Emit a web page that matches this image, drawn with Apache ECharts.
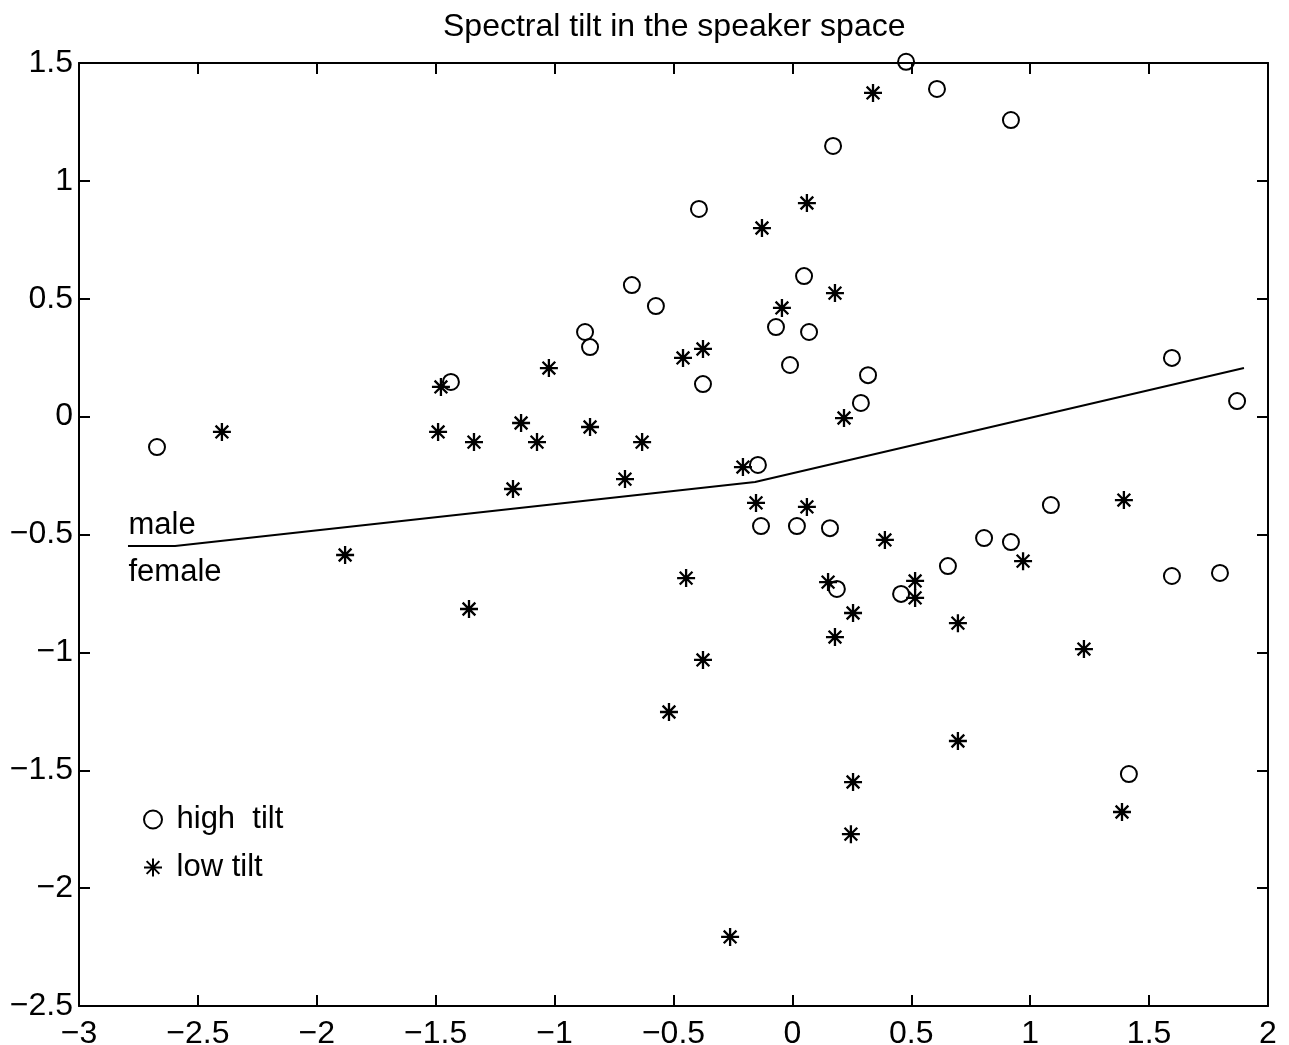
<!DOCTYPE html>
<html>
<head>
<meta charset="utf-8">
<script src="https://cdn.jsdelivr.net/npm/echarts@6/dist/echarts.min.js"></script>
<style>
html,body{margin:0;padding:0;background:#fff;}
#chart{width:1289px;height:1045px;}
</style>
</head>
<body>
<div id="chart"></div>
<script>
const titleText = 'Spectral tilt in the speaker space';
const xTicks = [-3, -2.5, -2, -1.5, -1, -0.5, 0, 0.5, 1, 1.5, 2];
const yTicks = [-2.5, -2, -1.5, -1, -0.5, 0, 0.5, 1, 1.5];

const highTiltX = [-2.672,-1.436,-0.872,-0.851,-0.675,-0.574,-0.393,-0.376,-0.145,-0.132,-0.069,-0.010,0.019,0.049,0.070,0.171,0.158,0.187,0.288,0.318,0.478,0.457,0.608,0.654,0.806,0.919,0.919,1.087,1.415,1.596,1.596,1.798,1.870];
const highTiltY = [-0.129,0.147,0.359,0.295,0.558,0.469,0.881,0.138,-0.205,-0.464,0.380,0.219,-0.464,0.596,0.359,1.148,-0.473,-0.731,0.058,0.176,1.505,-0.752,1.390,-0.634,-0.515,1.258,-0.532,-0.375,-1.516,0.249,-0.676,-0.663,0.066];

const lowTiltX = [-2.399,-1.881,-1.490,-1.478,-1.360,-1.339,-1.175,-1.141,-1.074,-1.024,-0.851,-0.704,-0.632,-0.519,-0.460,-0.447,-0.376,-0.376,-0.262,-0.208,-0.153,-0.128,-0.044,0.061,0.061,0.150,0.179,0.179,0.217,0.255,0.255,0.246,0.339,0.389,0.516,0.516,0.696,0.696,0.970,1.226,1.394,1.386];
const lowTiltY = [-0.065,-0.587,-0.065,0.126,-0.816,-0.108,-0.307,-0.027,-0.108,0.206,-0.044,-0.265,-0.108,-1.253,0.249,-0.685,0.287,-1.032,-2.207,-0.214,-0.366,0.800,0.461,0.906,-0.383,-0.702,0.524,-0.935,-0.006,-0.833,-1.550,-1.771,1.373,-0.523,-0.697,-0.769,-0.876,-1.376,-0.613,-0.986,-0.354,-1.677];

const boundaryX = [-2.794, -2.596, -0.157, 1.899];
const boundaryY = [-0.549, -0.549, -0.277, 0.206];

const annotTexts = ['male', 'female'];
const annotX = [-2.794, -2.794];
const annotY = [-0.462, -0.662];

const FONT = '"Liberation Sans", Arial, Helvetica, sans-serif';
const zip = (a, b) => a.map((v, i) => [v, b[i]]);
const fmt = v => (v < 0 ? '\u2212' : '') + Math.abs(v);
const starPath = 'path://M8,0 L8,16 M0,8 L16,8 M2.35,2.35 L13.65,13.65 M2.35,13.65 L13.65,2.35';

const chart = echarts.init(document.getElementById('chart'), null, {renderer: 'canvas'});

const axisCommon = {
  type: 'value',
  splitLine: {show: false},
  axisLine: {show: true, onZero: false, lineStyle: {color: '#000', width: 2}},
  axisTick: {show: true, inside: true, length: 11, lineStyle: {color: '#000', width: 2}}
};

chart.setOption({
  backgroundColor: '#fff',
  animation: false,
  title: {
    text: titleText,
    left: 443,
    top: 11,
    padding: 0,
    textStyle: {fontFamily: FONT, fontSize: 32, fontWeight: 'normal', color: '#000'}
  },
  legend: {
    data: ['high  tilt', 'low tilt'],
    orient: 'vertical',
    left: 143,
    top: 804,
    padding: 0,
    itemWidth: 25,
    itemHeight: 18,
    itemGap: 17,
    selectedMode: false,
    textStyle: {fontFamily: FONT, fontSize: 31, color: '#000', lineHeight: 30, padding: [0, 0, 0, 6]}
  },
  grid: {left: 79, right: 21, top: 63, bottom: 39, containLabel: false, outerBoundsMode: 'none'},
  xAxis: [
    Object.assign({}, axisCommon, {
      position: 'bottom', min: -3, max: 2, interval: 0.5,
      axisLabel: {show: true, margin: 12, color: '#000', fontFamily: FONT, fontSize: 32, formatter: fmt,
                  customValues: xTicks, showMinLabel: true, showMaxLabel: true},
      axisTick: Object.assign({}, axisCommon.axisTick, {customValues: xTicks})
    }),
    Object.assign({}, axisCommon, {
      position: 'top', min: -3, max: 2, interval: 0.5,
      axisLabel: {show: false},
      axisTick: Object.assign({}, axisCommon.axisTick, {customValues: xTicks})
    })
  ],
  yAxis: [
    Object.assign({}, axisCommon, {
      position: 'left', min: -2.5, max: 1.5, interval: 0.5,
      axisLabel: {show: true, margin: 6, color: '#000', fontFamily: FONT, fontSize: 32, formatter: fmt,
                  customValues: yTicks, showMinLabel: true, showMaxLabel: true},
      axisTick: Object.assign({}, axisCommon.axisTick, {customValues: yTicks})
    }),
    Object.assign({}, axisCommon, {
      position: 'right', min: -2.5, max: 1.5, interval: 0.5,
      axisLabel: {show: false},
      axisTick: Object.assign({}, axisCommon.axisTick, {customValues: yTicks})
    })
  ],
  series: [
    {
      name: 'boundary',
      type: 'line',
      xAxisIndex: 0, yAxisIndex: 0,
      data: zip(boundaryX, boundaryY),
      showSymbol: false,
      symbol: 'none',
      lineStyle: {color: '#000', width: 2},
      z: 2,
      silent: true
    },
    {
      name: 'high  tilt',
      type: 'scatter',
      xAxisIndex: 0, yAxisIndex: 0,
      data: zip(highTiltX, highTiltY),
      symbol: 'circle',
      symbolSize: 16,
      itemStyle: {color: 'rgba(0,0,0,0)', borderColor: '#000', borderWidth: 2, opacity: 1},
      clip: false,
      z: 3
    },
    {
      name: 'low tilt',
      type: 'scatter',
      xAxisIndex: 0, yAxisIndex: 0,
      data: zip(lowTiltX, lowTiltY),
      symbol: starPath,
      symbolSize: 18,
      itemStyle: {color: 'rgba(0,0,0,0)', borderColor: '#000', borderWidth: 2.3, opacity: 1},
      clip: false,
      z: 3
    },
    {
      name: 'annotations',
      type: 'scatter',
      xAxisIndex: 0, yAxisIndex: 0,
      data: annotX.map((x, i) => ({value: [x, annotY[i]], name: annotTexts[i]})),
      symbolSize: 1,
      itemStyle: {color: 'rgba(0,0,0,0)'},
      silent: true,
      label: {
        show: true, position: 'right', distance: 0,
        formatter: p => p.name,
        fontFamily: FONT, fontSize: 31, color: '#000', opacity: 1
      },
      emphasis: {disabled: true},
      z: 4
    }
  ]
});
</script>
</body>
</html>
